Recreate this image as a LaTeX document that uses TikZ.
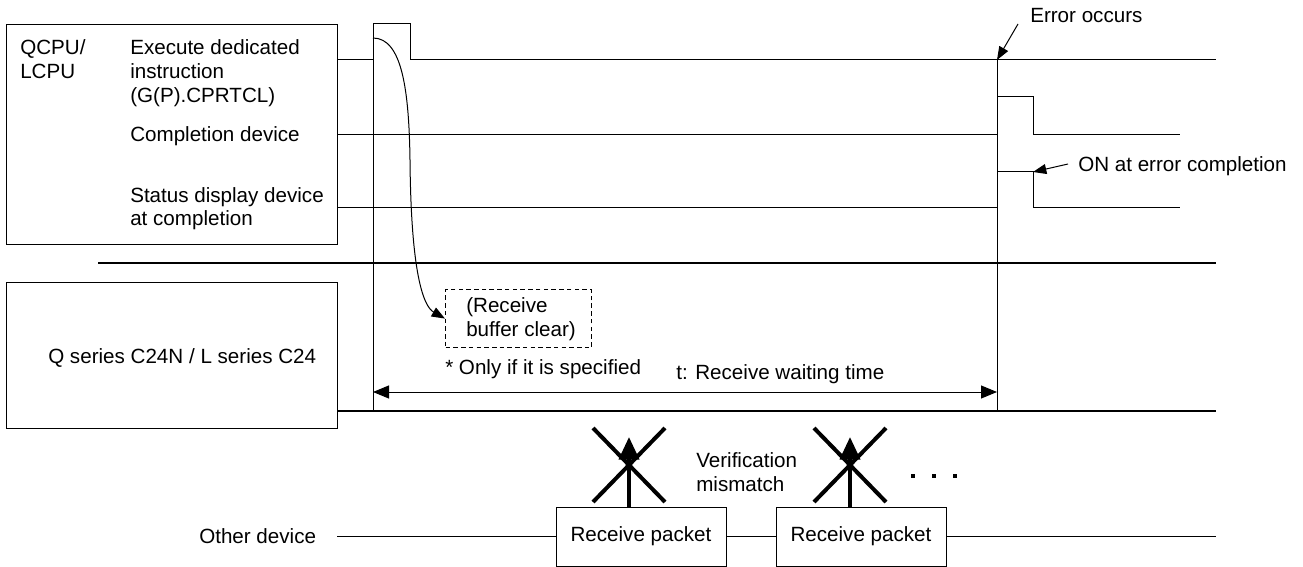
\documentclass[tikz,border=0pt]{standalone}
\usepackage{fontspec}
\setmainfont{Liberation Sans}
\usetikzlibrary{arrows.meta}
\begin{document}
\begin{tikzpicture}[x=0.75pt,y=-0.75pt,
  every node/.style={inner sep=0pt, font=\fontsize{15.45pt}{18.75pt}\selectfont},
  lbl/.style={anchor=base west},
  sig/.style={line width=0.75pt},
  heavy/.style={line width=1.7pt},
  frame/.style={draw, line width=0.75pt},
  dashbox/.style={draw, line width=0.9pt, dash pattern=on 3.4pt off 2.4pt},
  tipS/.style={-{Triangle[length=10pt,width=7.5pt]}},
  tipD/.style={{Triangle[length=12pt,width=9.75pt]}-{Triangle[length=12pt,width=9.75pt]}},
  bigup/.style={line width=3pt, -{Triangle[length=17pt,width=15pt]}},
  cross/.style={line width=3pt}
]
\useasboundingbox (0,0) rectangle (1303,567);

% frames
\node[frame, minimum width=248.25pt, minimum height=165pt, anchor=north west] (cpubox) at (6,24) {};
\node[frame, minimum width=248.25pt, minimum height=109.5pt, anchor=north west] (c24box) at (6,282) {};

% labels in top box
\node[lbl] (q1) at (20,55) {QCPU/};
\node[lbl] (q2) at (20,79) {LCPU};
\node[lbl] (e1) at (130,55) {Execute dedicated};
\node[lbl] (e2) at (130,79) {instruction};
\node[lbl] (e3) at (130,103) {(G(P).CPRTCL)};
\node[lbl] (cd) at (130,142) {Completion device};
\node[lbl] (s1) at (130,202) {Status display device};
\node[lbl] (s2) at (130,225) {at completion};
\node[lbl] (qs) at (48,363) {Q series C24N / L series C24};

% signals
\draw[sig] (337,60) -- (373,60) -- (373,24) -- (410,24) -- (410,60) -- (1216,60);
\draw[sig] (373,24) -- (373,411);
\draw[sig] (997,60) -- (997,411);
\draw[sig] (337,134) -- (997,134) -- (997,97) -- (1033,97) -- (1033,134) -- (1180,134);
\draw[sig] (337,207) -- (997,207) -- (997,171) -- (1033,171) -- (1033,207) -- (1180,207);

% thick separators
\draw[heavy] (98,263) -- (1216,263);
\draw[heavy] (337,411) -- (1216,411);

% receive buffer clear
\node[dashbox, minimum width=109.5pt, minimum height=43.5pt, anchor=north west] (clr) at (445,289) {};
\node[lbl] (r1) at (466,312) {(Receive};
\node[lbl] (r2) at (466,336) {buffer clear)};
\draw[sig, tipS] (373,38) .. controls (402,38) and (409,90) .. (410,160)
  .. controls (411,272) and (423,306) .. (clr.west);
\node[lbl] (only) at (445,374) {* Only if it is specified};
\node[lbl] (tw) at (676,379) {t: Receive waiting time};
\coordinate (tl) at (373,392);
\coordinate (tr) at (997,392);
\draw[sig, tipD] (tl) -- (tr);

% annotations
\node[lbl] (err) at (1030,23) {Error occurs};
\coordinate (errtip) at (997,60);
\draw[sig, tipS] (1018,24) -- (errtip);
\node[lbl] (on) at (1078,171) {ON at error completion};
\coordinate (ontip) at (1033,172);
\draw[sig, tipS] (1068,164) -- (ontip);

% other device
\node[lbl] (od) at (199,543) {Other device};
\coordinate (odl) at (337,536.5);
\coordinate (odr) at (1216,536.5);
\node[frame, minimum width=127.5pt, minimum height=44.25pt] (pk1) at (641,536.5) {Receive packet};
\node[frame, minimum width=127.5pt, minimum height=44.25pt] (pk2) at (861,536.5) {Receive packet};
\draw[line width=1.1pt] (odl) -- (pk1.west);
\draw[line width=1.1pt] (pk1.east) -- (pk2.west);
\draw[line width=1.1pt] (pk2.east) -- (odr);

\coordinate (a1) at (629,437);
\coordinate (a2) at (850,437);
\draw[bigup] (a1 |- pk1.north) -- (a1);
\draw[bigup] (a2 |- pk2.north) -- (a2);
\draw[cross] (593,428) -- (665,502);
\draw[cross] (665,428) -- (593,502);
\draw[cross] (814,428) -- (886,502);
\draw[cross] (886,428) -- (814,502);

\node[lbl] (v1) at (696,467) {Verification};
\node[lbl] (v2) at (696,491) {mismatch};

\fill (911,474) rectangle (915,478);
\fill (932,474) rectangle (936,478);
\fill (953,474) rectangle (957,478);
\end{tikzpicture}
\end{document}
